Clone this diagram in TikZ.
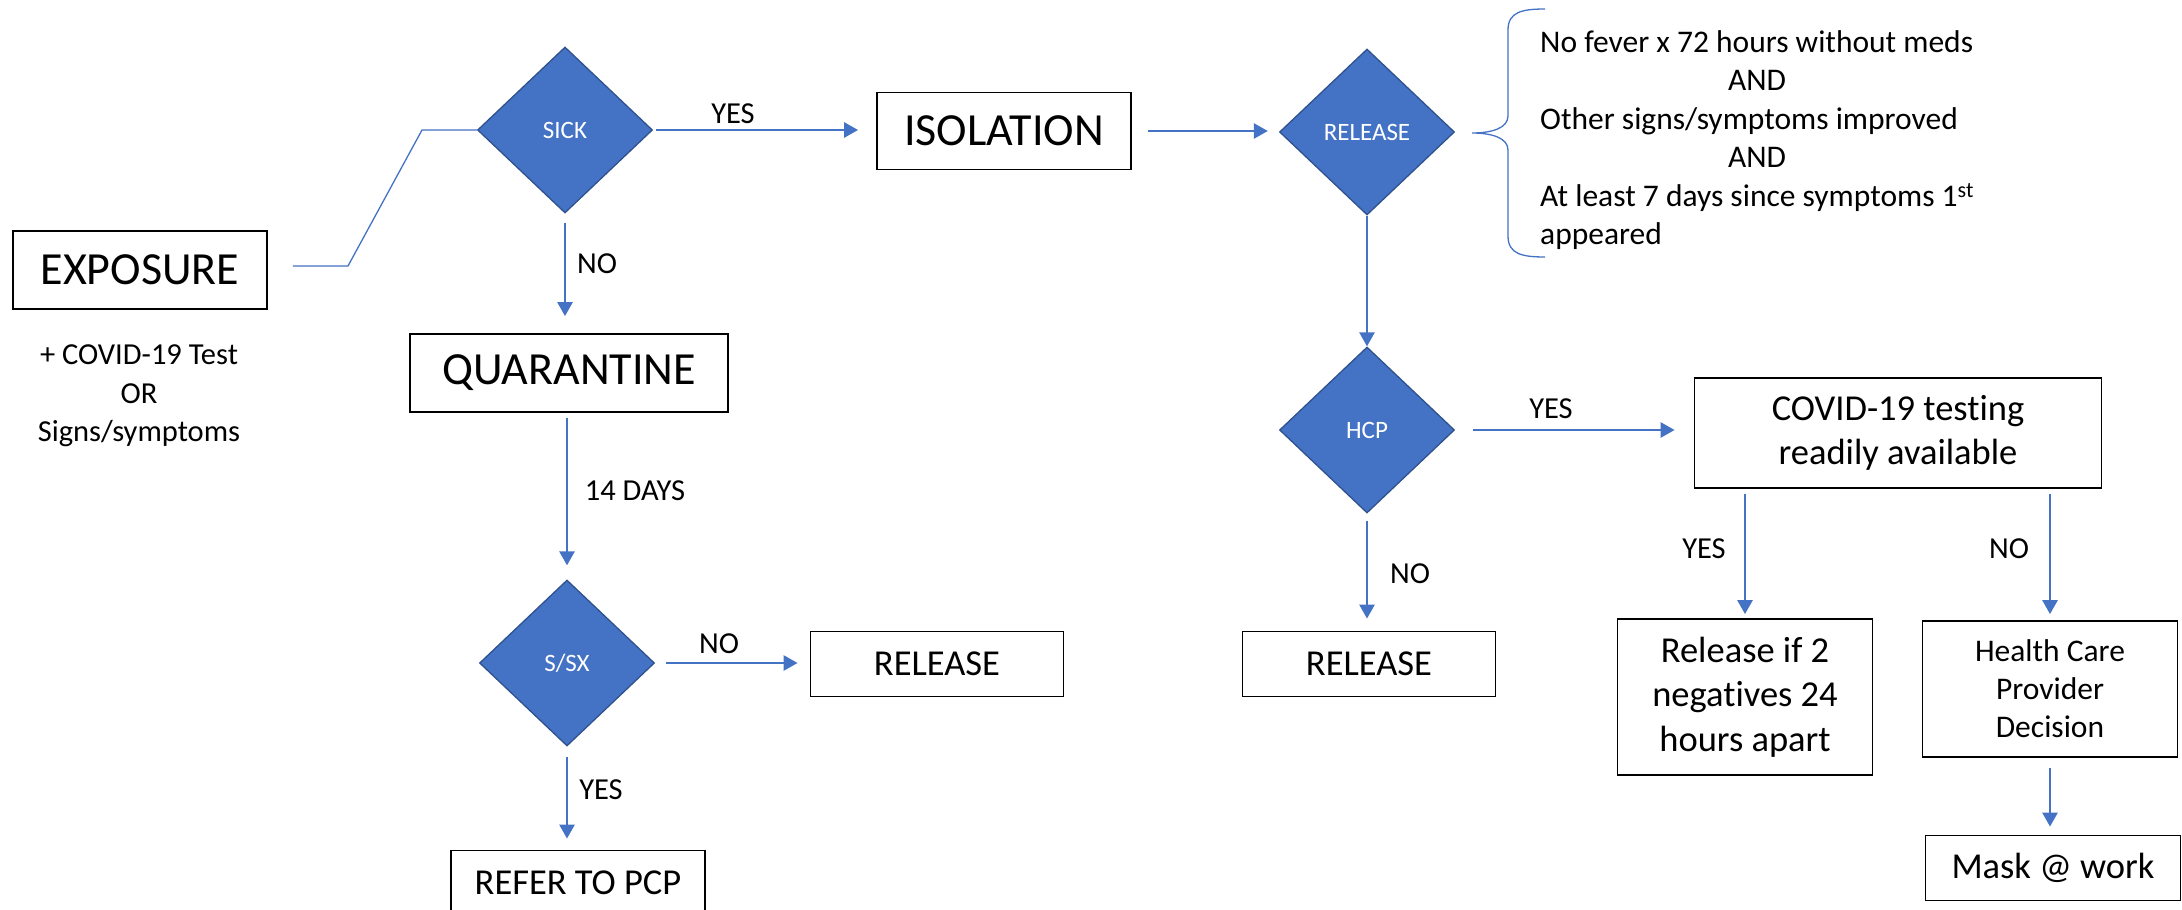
\documentclass[tikz,border=0pt]{standalone}
\usepackage{fontspec}
\setmainfont{Carlito}[Ligatures=NoCommon]
\usepackage{tikz}
\usetikzlibrary{shapes,positioning,calc,arrows.meta}

\definecolor{officeblue}{HTML}{4472C4}
\definecolor{officeedge}{HTML}{2F528F}

\begin{document}
\begin{tikzpicture}[x=1pt, y=-1pt,
    box/.style={draw=black, line width=1.8pt, inner sep=0pt, align=center},
    choice/.style={diamond, draw=officeedge, line width=1.3pt, fill=officeblue,
      text=white, inner sep=0pt, minimum width=175pt, minimum height=166pt,
      font=\fontsize{25}{30}\selectfont},
    flow/.style={draw=officeblue, line width=2.6pt, -{Triangle[length=14pt,width=15pt]}},
    link/.style={draw=officeblue, line width=1.3pt},
    bigtext/.style={font=\fontsize{46}{56}\selectfont},
    midtext/.style={font=\fontsize{36.5}{44.5}\selectfont},
    smalltext/.style={font=\fontsize{31.5}{38}\selectfont},
    lbl/.style={font=\fontsize{30.5}{38.5}\selectfont, inner sep=0pt}
  ]
    \useasboundingbox (0,0) rectangle (2182,910);

    % decisions
    \node[choice] (sick) at (565,130) {SICK};
    \node[choice] (ssx) at (567,663) {S/SX};
    \node[choice] (rel) at (1367,132) {RELEASE};
    \node[choice] (hcp) at (1367,430) {HCP};

    % boxes
    \node[box, bigtext, minimum width=254pt, minimum height=78pt] (exp) at (140,270) {EXPOSURE};
    \node[lbl, align=center] (cond) at (139,396) {+ COVID-19 Test\\OR\\Signs/symptoms};
    \node[box, bigtext, minimum width=254pt, minimum height=77pt] (iso) at (1004,131) {ISOLATION};
    \node[box, bigtext, minimum width=318pt, minimum height=78pt] (quar) at (569,373) {QUARANTINE};
    \node[box, midtext, minimum width=253pt, minimum height=65pt] (relA) at (937,664) {RELEASE};
    \node[box, midtext, minimum width=254pt, minimum height=65pt] (pcp) at (578,883) {REFER TO PCP};
    \node[box, midtext, minimum width=253pt, minimum height=65pt] (relB) at (1369,664) {RELEASE};
    \node[box, midtext, minimum width=407pt, minimum height=110pt] (test) at (1898,433) {COVID-19 testing\\readily available};
    \node[box, midtext, minimum width=255pt, minimum height=156pt] (neg) at (1745,697) {Release if 2\\negatives 24\\hours apart};
    \node[box, smalltext, minimum width=255pt, minimum height=136pt] (prov) at (2050,689) {Health Care\\Provider\\Decision};
    \node[box, midtext, minimum width=255pt, minimum height=65pt] (mask) at (2053,868) {Mask @ work};

    % release criteria
    \node[anchor=west, inner sep=0pt, font=\fontsize{31.5}{38.5}\selectfont] (crit) at (1540,141) {%
      \begin{tabular}{@{}l@{}}
        No fever x 72 hours without meds \\
        \multicolumn{1}{@{}c@{}}{AND} \\
        Other signs/symptoms improved \\
        \multicolumn{1}{@{}c@{}}{AND} \\
        At least 7 days since symptoms 1\textsuperscript{st} \\
        appeared
      \end{tabular}};
    \coordinate (tip) at (1472,133);
    \draw[link] (1545,9) .. controls (1522,9) and (1508,12) .. (1508,30) -- (1508,116)
      .. controls (1508,128) and (1492,133) .. (tip)
      .. controls (1492,133) and (1508,138) .. (1508,150) -- (1508,236)
      .. controls (1508,254) and (1522,257) .. (1545,257);

    % exposure link
    \coordinate (k1) at (348,266);
    \coordinate (k2) at (422,130);
    \draw[link, shorten <=25pt] (exp.east |- k1) -- (k1) -- (k2) -- (sick.west);

    % arrows
    \draw[flow, shorten <=3pt, shorten >=18pt] (sick.east) -- (sick.east -| iso.west);
    \draw[flow, shorten <=16pt, shorten >=11pt] (iso.east) -- (iso.east -| rel.west);
    \draw[flow, shorten <=9pt, shorten >=17pt] (sick.south) -- (sick.south |- quar.north);
    \draw[flow, shorten <=5pt, shorten >=14pt] (quar.south -| ssx.north) -- (ssx.north);
    \draw[flow, shorten <=11pt, shorten >=12pt] (ssx.east) -- (ssx.east -| relA.west);
    \draw[flow, shorten <=10pt, shorten >=11pt] (ssx.south) -- (ssx.south |- pcp.north);
    \draw[flow] (rel.south) -- (hcp.north);
    \draw[flow, shorten <=7pt, shorten >=12pt] (hcp.south) -- (hcp.south |- relB.north);
    \draw[flow, shorten <=18pt, shorten >=19pt] (hcp.east) -- (hcp.east -| test.west);
    \draw[flow, shorten <=5pt, shorten >=4pt] (test.south -| neg.north) -- (neg.north);
    \draw[flow, shorten <=5pt, shorten >=6pt] (test.south -| prov.north) -- (prov.north);
    \draw[flow, shorten <=10pt, shorten >=8pt] (prov.south) -- (prov.south |- mask.north);

    % arrow labels
    \node[lbl] (yesA) at (733,114) {YES};
    \node[lbl] (noA) at (597,264) {NO};
    \node[lbl] (days) at (635,491) {14 DAYS};
    \node[lbl] (noB) at (719,644) {NO};
    \node[lbl] (yesB) at (601,790) {YES};
    \node[lbl] (yesC) at (1551,409) {YES};
    \node[lbl] (noC) at (1410,574) {NO};
    \node[lbl] (yesD) at (1704,549) {YES};
    \node[lbl] (noD) at (2009,549) {NO};
\end{tikzpicture}
\end{document}
